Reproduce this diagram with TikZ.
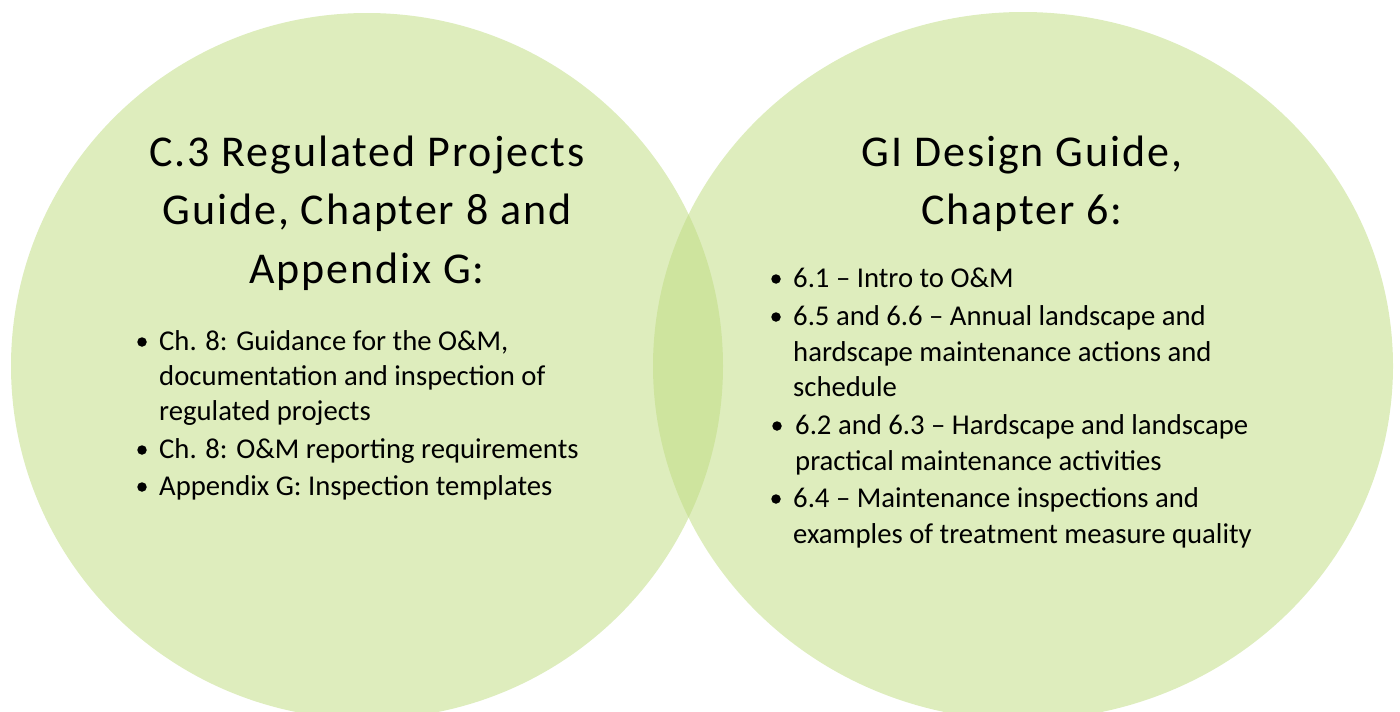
\documentclass[tikz,border=0pt]{standalone}
\usepackage{fontspec}
\setmainfont{Carlito}
\newfontfamily\headfont[LetterSpace=4.3]{Carlito}
\definecolor{vennfill}{RGB}{191,220,129}

\begin{document}
\begin{tikzpicture}[x=1pt,y=-1pt,
    set/.style={fill=vennfill,fill opacity=0.52,draw=none},
    title/.style={anchor=base,inner sep=0pt,font=\headfont\fontsize{44}{58}\selectfont},
    line/.style={anchor=base west,inner sep=0pt,font=\fontsize{28.7}{36}\selectfont},
    dot/.style={circle,fill=black,inner sep=0pt,minimum size=9.5pt}]
  \useasboundingbox (0,0) rectangle (1400,712);
  % the two sets
  \fill[set] (367,366) ellipse [x radius=356,y radius=353];
  \fill[set] (1023,366) ellipse [x radius=370,y radius=354];
  % left set: C.3 guide
  \node[title] (c3a) at (367,166) {C.3 Regulated Projects};
  \node[title] (c3b) at (367,224) {Guide, Chapter 8 and};
  \node[title] (c3c) at (367,283) {Appendix G:};
  \node[dot] (c3d1) at (142,342) {};
  \node[line] (c3l1) at (159,350) {Ch. 8: Guidance for the O\&M,};
  \node[line] (c3l2) at (159,385) {documentation and inspection of};
  \node[line] (c3l3) at (159,420) {regulated projects};
  \node[dot] (c3d2) at (142,450) {};
  \node[line] (c3l4) at (159,458) {Ch. 8: O\&M reporting requirements};
  \node[dot] (c3d3) at (142,487) {};
  \node[line] (c3l5) at (159,495) {Appendix G: Inspection templates};
  % right set: GI design guide
  \node[title] (gia) at (1022,166) {GI Design Guide,};
  \node[title] (gib) at (1022,224) {Chapter 6:};
  \node[dot] (gid1) at (776,279) {};
  \node[line] (gil1) at (793,287) {6.1 – Intro to O\&M};
  \node[dot] (gid2) at (776,317) {};
  \node[line] (gil2) at (793,325) {6.5 and 6.6 – Annual landscape and};
  \node[line] (gil3) at (793,361) {hardscape maintenance actions and};
  \node[line] (gil4) at (793,396) {schedule};
  \node[dot] (gid3) at (777,426) {};
  \node[line] (gil5) at (795,434) {6.2 and 6.3 – Hardscape and landscape};
  \node[line] (gil6) at (795,470) {practical maintenance activities};
  \node[dot] (gid4) at (776,499) {};
  \node[line] (gil7) at (793,507) {6.4 – Maintenance inspections and};
  \node[line] (gil8) at (793,543) {examples of treatment measure quality};
\end{tikzpicture}
\end{document}
